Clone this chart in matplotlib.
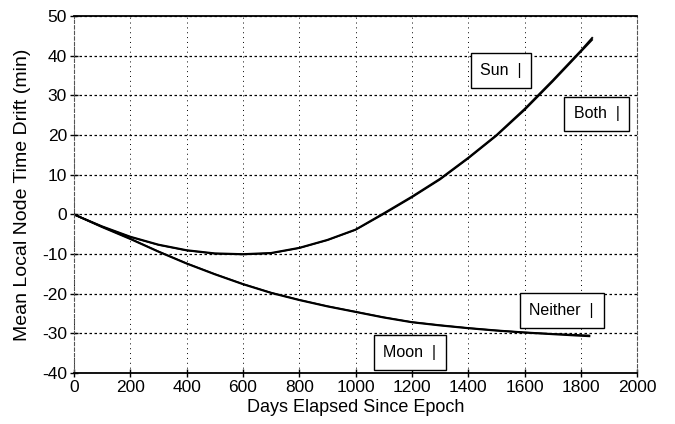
import matplotlib.pyplot as plt
import matplotlib.ticker as ticker

plt.rcParams['font.family'] = ['Liberation Sans', 'DejaVu Sans']
plt.rcParams['axes.unicode_minus'] = False

# Days elapsed and drift values (min)
days_upper = [0, 100, 200, 300, 400, 500, 600, 700, 800, 900, 1000, 1100, 1200, 1300, 1400, 1500, 1600, 1700, 1800, 1840]
drift_sun = [0, -3.0, -5.6, -7.6, -9.0, -9.8, -10.0, -9.7, -8.4, -6.4, -3.8, 0.3, 4.5, 9.0, 14.3, 20.0, 26.6, 33.8, 41.3, 44.5]
drift_both = [0, -3.1, -5.7, -7.7, -9.1, -9.9, -10.1, -9.8, -8.5, -6.5, -3.9, 0.1, 4.3, 8.8, 14.1, 19.8, 26.3, 33.5, 41.0, 44.0]

days_lower = [0, 100, 200, 300, 400, 500, 600, 700, 800, 900, 1000, 1100, 1200, 1300, 1400, 1500, 1600, 1700, 1800, 1830]
drift_moon = [0, -3.2, -6.2, -9.4, -12.4, -15.1, -17.6, -19.8, -21.6, -23.2, -24.6, -26.0, -27.2, -28.0, -28.7, -29.3, -29.8, -30.2, -30.6, -30.7]
drift_neither = [0, -3.1, -6.1, -9.3, -12.3, -15.0, -17.5, -19.7, -21.5, -23.1, -24.5, -25.9, -27.1, -27.9, -28.6, -29.2, -29.7, -30.1, -30.4, -30.5]

# label text, x (days), y (min)
labels = ["Sun", "Both", "Neither", "Moon"]
label_x = [1516, 1856, 1732, 1192]
label_y = [36.3, 25.4, -24.2, -34.8]

fig = plt.figure(figsize=(6.75, 4.24), dpi=100)
ax = fig.add_axes([0.1096, 0.120, 0.8344, 0.842])

ax.plot(days_upper, drift_sun, color="black", lw=1.4)
ax.plot(days_upper, drift_both, color="black", lw=1.2)
ax.plot(days_lower, drift_moon, color="black", lw=1.4)
ax.plot(days_lower, drift_neither, color="black", lw=1.2)

for txt, x, y in zip(labels, label_x, label_y):
    ax.text(x, y, txt + "  |", ha="center", va="center", fontsize=11.5,
            bbox=dict(boxstyle="square,pad=0.6", facecolor="white",
                      edgecolor="black", linewidth=1.0))

ax.set_xlim(0, 2000)
ax.set_ylim(-40, 50)
ax.xaxis.set_major_locator(ticker.MultipleLocator(200))
ax.yaxis.set_major_locator(ticker.MultipleLocator(10))

ax.grid(True, axis="y", color="black", linestyle=(0, (2, 2)), linewidth=0.9)
ax.grid(True, axis="x", color="black", linestyle=(0, (1, 4)), linewidth=0.7)
ax.set_axisbelow(True)

for side in ["top", "bottom"]:
    ax.spines[side].set_linewidth(1.3)
for side in ["left", "right"]:
    ax.spines[side].set_linewidth(0.8)
    ax.spines[side].set_linestyle((0, (3, 2)))
    ax.spines[side].set_color("#555555")

ax.tick_params(axis="both", direction="inout", length=6, width=1, labelsize=12.5,
               colors="black", pad=2)

ax.set_xlabel("Days Elapsed Since Epoch", fontsize=13, labelpad=3)
ax.set_ylabel("Mean Local Node Time Drift (min)", fontsize=14, labelpad=8)

fig.savefig("out.png", dpi=100)
